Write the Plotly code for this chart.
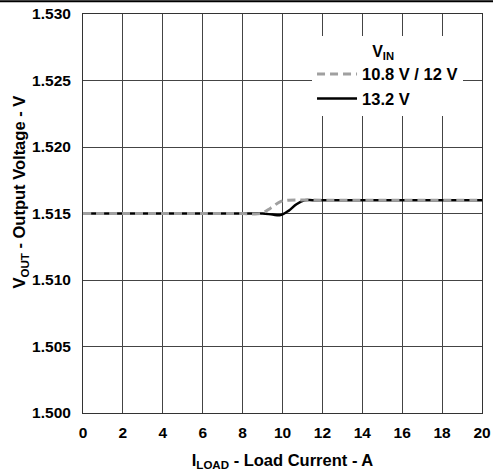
import plotly.graph_objects as go

# load current (A) and output voltage (V)
i_load_low = [0, 2, 4, 6, 8, 8.9, 9.4, 9.9, 10.3, 12, 14, 16, 18, 20]
v_out_low = [1.515, 1.515, 1.515, 1.515, 1.515, 1.515, 1.5154, 1.5159, 1.516, 1.516, 1.516, 1.516, 1.516, 1.516]

i_load_high = [0, 2, 4, 6, 8, 9, 9.5, 9.9, 10.3, 10.7, 11.1, 11.5, 12, 14, 16, 18, 20]
v_out_high = [1.515, 1.515, 1.515, 1.515, 1.515, 1.515, 1.51492, 1.51488, 1.5152, 1.5157, 1.5160, 1.516, 1.516, 1.516, 1.516, 1.516, 1.516]

x_ticks = [0, 2, 4, 6, 8, 10, 12, 14, 16, 18, 20]
y_ticks = [1.500, 1.505, 1.510, 1.515, 1.520, 1.525, 1.530]

font = "Liberation Sans, Arial, sans-serif"

fig = go.Figure()
# solid first so the grey dashes sit on top where the curves overlap
fig.add_trace(go.Scatter(x=i_load_high, y=v_out_high, mode="lines",
                         name="<b>13.2 V</b>", legendrank=2,
                         line=dict(color="black", width=2.5, shape="spline")))
fig.add_trace(go.Scatter(x=i_load_low, y=v_out_low, mode="lines",
                         name="<b>10.8 V / 12 V</b>", legendrank=1,
                         line=dict(color="#a0a0a0", width=3, dash="8px,5px", shape="spline")))

axis_common = dict(showline=True, linecolor="#333", linewidth=1, mirror=True,
                   showgrid=True, gridcolor="#444", gridwidth=1, zeroline=False,
                   ticks="outside", tickcolor="rgba(0,0,0,0)",
                   automargin=False, ticklabeloverflow="allow",
                   tickfont=dict(family=font, size=15.5, color="black"))

fig.update_xaxes(range=[0, 20], tickvals=x_ticks, ticklen=5,
                 ticktext=[f"<b>{v}</b>" for v in x_ticks],
                 title=dict(text="<b>I<sub>LOAD</sub> - Load Current - A</b>",
                            font=dict(family=font, size=16.5, color="black"), standoff=14),
                 **axis_common)
fig.update_yaxes(range=[1.500, 1.530], tickvals=y_ticks, ticklen=8,
                 ticktext=[f"<b>{v:.3f}</b>" for v in y_ticks],
                 **axis_common)

# y title sits a little above the plot centre in the reference
fig.add_annotation(text="<b>V<sub>OUT</sub> - Output Voltage - V</b>",
                   xref="paper", yref="paper", x=-0.158, y=0.555,
                   xanchor="center", yanchor="middle", textangle=-90,
                   showarrow=False, font=dict(family=font, size=16.5, color="black"))

fig.update_layout(
    width=493, height=474,
    margin=dict(l=83, r=11, t=14, b=61),
    paper_bgcolor="white", plot_bgcolor="white",
    font=dict(family=font, size=16, color="black"),
    showlegend=True,
    legend=dict(x=0.574, y=0.945, xanchor="left", yanchor="top",
                bgcolor="white", borderwidth=0, itemwidth=40,
                title=dict(text="<b>V<sub>IN</sub></b>&nbsp;&nbsp;", side="top center",
                           font=dict(family=font, size=16)),
                font=dict(family=font, size=16.5), tracegroupgap=0),
    shapes=[dict(type="line", xref="paper", yref="paper", x0=-0.3, x1=1.1,
                 y0=1.032, y1=1.032, line=dict(color="black", width=2))],
)

# drop the default 8px body margin so the figure sits at the window's corner
fig.write_html("out.html", config={"displayModeBar": False},
               post_script="document.body.style.margin='0px';")
